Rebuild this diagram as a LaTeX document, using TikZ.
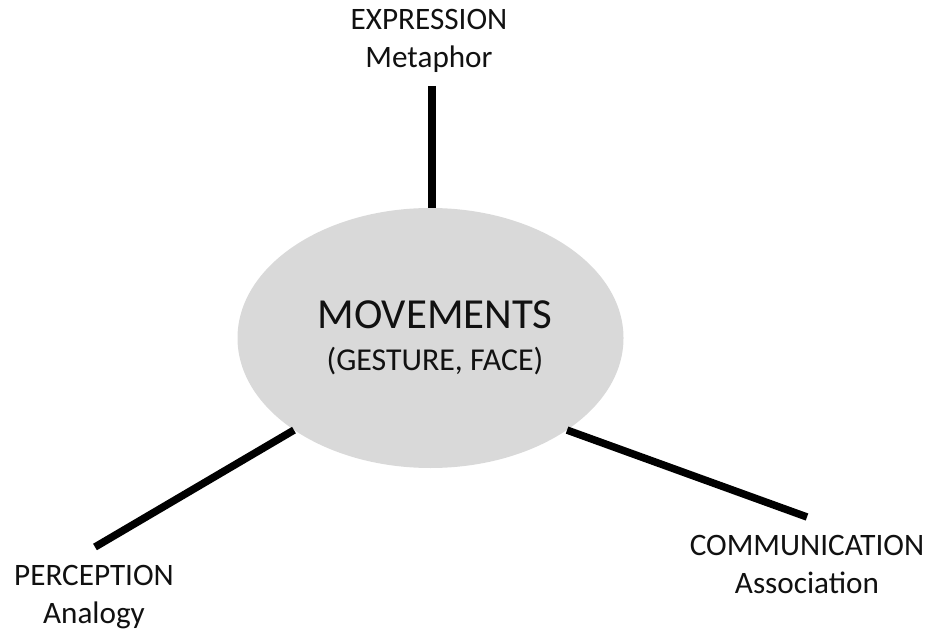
\documentclass[tikz,border=0pt]{standalone}
\usepackage{fontspec}
\setmainfont{Carlito}
\usetikzlibrary{shapes.geometric}
\definecolor{ellfill}{HTML}{D9D9D9}
\definecolor{txt}{HTML}{111111}
\tikzset{
  hub/.style={ellipse, fill=ellfill, draw=none, minimum width=386bp, minimum height=260bp, inner sep=0pt},
  label/.style={anchor=base, inner sep=0pt, text=txt, font=\fontsize{31.3}{37}\selectfont},
  biglabel/.style={anchor=base, inner sep=0pt, text=txt, font=\fontsize{43}{50}\selectfont},
  midlabel/.style={anchor=base, inner sep=0pt, text=txt, font=\fontsize{32}{36}\selectfont},
  spoke/.style={line width=7.5bp, line cap=butt, black}
}
\begin{document}
\begin{tikzpicture}[x=1bp,y=-1bp]
\useasboundingbox (0,0) rectangle (931,630);
\node[hub] (m) at (430.5,338) {};
\node[biglabel] (mv) at (435,328) {MOVEMENTS};
\node[midlabel] (gf) at (435,370) {(GESTURE, FACE)};
\node[label] (ex) at (429,30) {EXPRESSION};
\node[label] (me) at (429,68) {Metaphor};
\node[label] (pe) at (94,585) {PERCEPTION};
\node[label] (an) at (94,623) {Analogy};
\node[label] (co) at (807,555) {COMMUNICATION};
\node[label] (as) at (807,593) {Association};
\coordinate (tE) at (432,86);
\coordinate (tP) at (95,547);
\coordinate (tC) at (807,517);
\draw[spoke] (tE) -- (tE |- m.north);
\draw[spoke] (m.214.2) -- (tP);
\draw[spoke] (m.326.6) -- (tC);
\end{tikzpicture}
\end{document}
